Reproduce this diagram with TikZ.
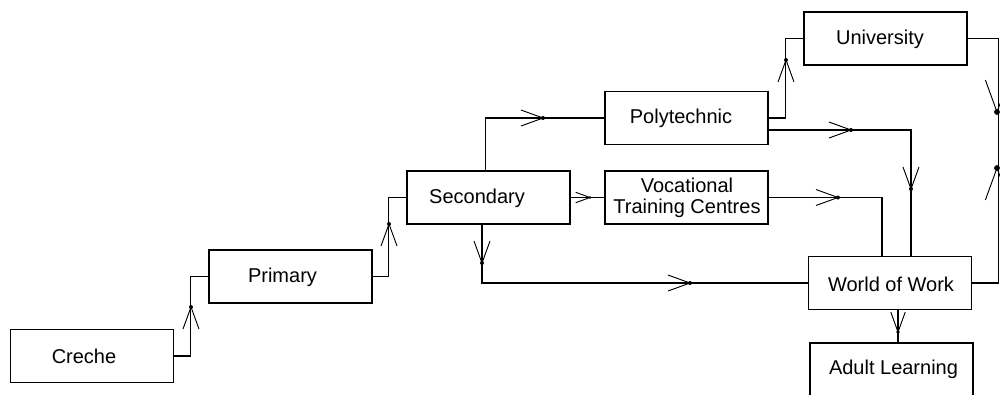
\documentclass[tikz,border=0pt]{standalone}
\usepackage{fontspec}
\setmainfont{Liberation Sans}
\usetikzlibrary{calc}
\begin{document}
\begin{tikzpicture}[x=0.75pt,y=-0.75pt,
 box/.style={draw, line width=0.8pt, minimum width=122.25pt, minimum height=39.75pt, inner sep=0pt},
 lbl/.style={font=\fontsize{15}{16}\selectfont, align=center, inner sep=0pt},
 conn/.style={line width=0.8pt},
 legs/.pic={\draw[line width=0.7pt] (-22,-8) -- (0,0) -- (-22,8); \fill (0,0) circle (2);},
]
\useasboundingbox (0,0) rectangle (1000,394);
\clip (0,0) rectangle (1000,394);
% boxes
\node[box] (creche) at (92,356) {};
\node[box] (primary) at (290.5,276.5) {};
\node[box] (secondary) at (488.5,197.5) {};
\node[box] (poly) at (686.5,118) {};
\node[box] (voc) at (686.5,197.5) {};
\node[box] (univ) at (885.5,38.5) {};
\node[box] (wow) at (890,283) {};
\node[box] (adult) at (891.5,369.5) {};
% labels
\node[lbl] (lcreche) at (84,356) {Creche};
\node[lbl] (lprimary) at (282.5,277) {Primary};
\node[lbl] (lsecondary) at (477,198) {Secondary};
\node[lbl] (lpoly) at (681,118) {Polytechnic};
\node[lbl] (lvoc) at (687,197.5) {Vocational\\Training Centres};
\node[lbl] (luniv) at (880,39) {University};
\node[lbl] (lwow) at (891,284) {World of Work};
\node[lbl] (ladult) at (893.5,369) {Adult Learning};
% connectors
\draw[conn] (creche.east) -| ($(primary.west)+(-18,0)$) -- (primary.west);
\draw[conn] (primary.east) -| ($(secondary.west)+(-18,0)$) -- (secondary.west);
\draw[conn] ([xshift=-2.6pt]secondary.north) |- (poly.west);
\draw[conn] (secondary.east) -- (voc.west);
\draw[conn] ([xshift=-4.9pt]secondary.south) |- (wow.west);
\draw[conn] (poly.east) -| ($(univ.west)+(-18,0)$) -- (univ.west);
\draw[conn] ([yshift=-9pt]poly.east) -| ([xshift=15.75pt]wow.north);
\draw[conn] (voc.east) -| ([xshift=-6pt]wow.north);
\draw[conn] (univ.east) -| ($(wow.east)+(26,0)$) -- (wow.east);
\draw[conn] ([xshift=6pt]wow.south) -- ([xshift=6pt]wow.south |- adult.north);
% arrowheads
\pic[rotate=90] at (191,307) {legs};
\pic[rotate=90] at (389,224) {legs};
\pic at (543,118) {legs};
\pic[scale=0.65] at (590,197.5) {legs};
\pic[rotate=-90] at (482,263) {legs};
\pic at (690,283) {legs};
\pic[rotate=90] at (786,60) {legs};
\pic at (851,130) {legs};
\pic[rotate=-90] at (911,189) {legs};
\pic at (838,197.5) {legs};
\pic[rotate=-90,scale=1.45] at (997,112) {legs};
\pic[rotate=90,scale=1.45] at (997,168) {legs};
\pic[rotate=-90,scale=0.9] at (898,332) {legs};
\end{tikzpicture}
\end{document}
